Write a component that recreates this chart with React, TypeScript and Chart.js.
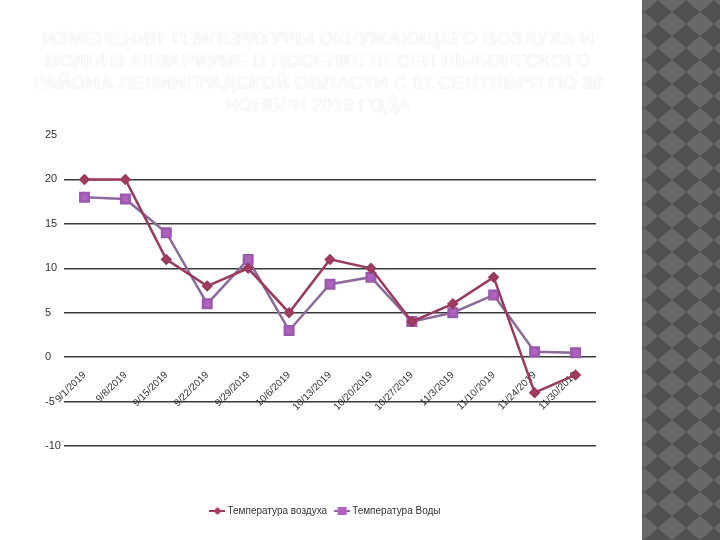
import React, { useEffect, useRef } from "react";
import { Chart, registerables } from "chart.js";

Chart.register(...registerables);

const titleLines = [
  "ИЗМЕНЕНИЯ ТЕМПЕРАТУРЫ ОКРУЖАЮЩЕГО ВОЗДУХА И",
  "ВОДЫ В АКВАРИУМЕ В ПОСЕЛКЕ ПЕСЕН ВЫБОРГСКОГО",
  "РАЙОНА ЛЕНИНГРАДСКОЙ ОБЛАСТИ С 01 СЕНТЯБРЯ ПО 30",
  "НОЯБРЯ 2019 ГОДА",
];

const dates = [
  "9/1/2019",
  "9/8/2019",
  "9/15/2019",
  "9/22/2019",
  "9/29/2019",
  "10/6/2019",
  "10/13/2019",
  "10/20/2019",
  "10/27/2019",
  "11/3/2019",
  "11/10/2019",
  "11/24/2019",
  "11/30/2019",
];

const airTemp = [20, 20, 11, 8, 10, 5, 11, 10, 4, 6, 9, -4, -2];
const waterTemp = [18, 17.8, 14, 6, 11, 3, 8.2, 9, 4, 5, 7, 0.6, 0.5];

const seriesNames = ["Температура воздуха", "Температура Воды"];

const yMin = -10;
const yMax = 25;
const yStep = 5;

const airLine = "#9a3a5e";
const airFill = "#a83c60";
const waterLine = "#8c6a9c";
const waterFill = "#b062c0";

const patternSvg =
  "data:image/svg+xml;utf8," +
  encodeURIComponent(
    "<svg xmlns='http://www.w3.org/2000/svg' width='28' height='24'>" +
      "<rect width='28' height='24' fill='#686868'/>" +
      "<polygon points='0,0 14,12 0,24' fill='#515151'/>" +
      "<polygon points='28,0 14,12 28,24' fill='#515151'/>" +
      "</svg>"
  );

function legendIcon(lineColor: string, fill: string, shape: "diamond" | "square") {
  const c = document.createElement("canvas");
  c.width = 16;
  c.height = 10;
  const g = c.getContext("2d")!;
  g.strokeStyle = lineColor;
  g.lineWidth = 2;
  g.beginPath();
  g.moveTo(0, 5);
  g.lineTo(16, 5);
  g.stroke();
  g.fillStyle = fill;
  if (shape === "diamond") {
    g.beginPath();
    g.moveTo(8, 1);
    g.lineTo(12, 5);
    g.lineTo(8, 9);
    g.lineTo(4, 5);
    g.closePath();
    g.fill();
  } else {
    g.fillRect(3.5, 1, 9, 8);
  }
  return c;
}

export default function App() {
  const canvasRef = useRef<HTMLCanvasElement | null>(null);

  useEffect(() => {
    if (!canvasRef.current) return;
    const icons = [legendIcon(airLine, airFill, "diamond"), legendIcon(waterLine, waterFill, "square")];
    const chart = new Chart(canvasRef.current, {
      type: "line",
      data: {
        labels: dates,
        datasets: [
          {
            label: seriesNames[0],
            data: airTemp,
            borderColor: airLine,
            backgroundColor: airFill,
            borderWidth: 2.5,
            pointStyle: "rectRot",
            pointRadius: 4,
            pointBackgroundColor: airFill,
            pointBorderColor: airLine,
            tension: 0,
          },
          {
            label: seriesNames[1],
            data: waterTemp,
            borderColor: waterLine,
            backgroundColor: waterFill,
            borderWidth: 2.5,
            pointStyle: "rect",
            pointRadius: 6,
            pointBackgroundColor: waterFill,
            pointBorderColor: "#9c5aae",
            tension: 0,
          },
        ],
      },
      options: {
        responsive: false,
        animation: false,
        layout: { padding: { left: 45, right: 112, top: 135, bottom: 14 } },
        plugins: {
          legend: {
            position: "bottom",
            title: { display: true, text: "", padding: { top: 38, bottom: 0 }, font: { size: 10 } },
            labels: {
              usePointStyle: true,
              boxWidth: 12,
              boxHeight: 8,
              padding: 10,
              color: "#333",
              font: { family: "Liberation Sans", size: 10 },
              generateLabels: (ch: any) => {
                const items = Chart.defaults.plugins.legend.labels.generateLabels(ch);
                return items.map((it: any, i: number) => ({ ...it, pointStyle: icons[i] }));
              },
            },
          },
          tooltip: { enabled: false },
        },
        scales: {
          x: {
            position: { y: 0 } as any,
            offset: true,
            grid: { display: false, offset: true },
            border: { display: false },
            ticks: {
              autoSkip: false,
              minRotation: 45,
              maxRotation: 45,
              padding: 4,
              color: "#333",
              font: { family: "Liberation Sans", size: 10 },
            },
          },
          y: {
            min: yMin,
            max: yMax,
            afterFit: (s: any) => {
              s.width = 19;
            },
            grid: {
              drawTicks: false,
              lineWidth: 1.5,
              color: (ctx: any) => (ctx.tick && ctx.tick.value === yMax ? "rgba(0,0,0,0)" : "#3a3a3a"),
            },
            border: { display: false },
            ticks: {
              stepSize: yStep,
              crossAlign: "far",
              color: "#333",
              font: { family: "Liberation Sans", size: 11 },
            },
          },
          y1: {
            position: "right",
            min: yMin,
            max: yMax,
            afterFit: (s: any) => {
              s.width = 12;
            },
            grid: { display: false },
            border: { display: false },
            ticks: { display: false },
          },
        },
      },
    });
    return () => chart.destroy();
  }, []);

  return (
    <div
      style={{
        position: "fixed",
        left: 0,
        top: 0,
        width: 720,
        height: 540,
        background: "#ffffff",
        overflow: "hidden",
      }}
    >
      <canvas ref={canvasRef} width={720} height={540} style={{ position: "absolute", left: 0, top: 0 }} />
      <div
        style={{
          position: "absolute",
          left: 0,
          top: 28,
          width: 636,
          textAlign: "center",
          fontFamily: "'Liberation Sans', Arial, sans-serif",
          fontWeight: "bold",
          fontSize: 19,
          lineHeight: "22px",
          color: "#fbfbfb",
          textShadow: "0 0 1px #d8d8d8",
          whiteSpace: "nowrap",
        }}
      >
        {titleLines.map((l, i) => (
          <div key={i}>{l}</div>
        ))}
      </div>
      <div
        style={{
          position: "absolute",
          left: 642,
          top: 0,
          width: 78,
          height: 540,
          backgroundColor: "#5d5d5d",
          backgroundImage: `url("${patternSvg}")`,
          backgroundSize: "28px 24px",
          backgroundPosition: "16px 0px",
        }}
      />
    </div>
  );
}
